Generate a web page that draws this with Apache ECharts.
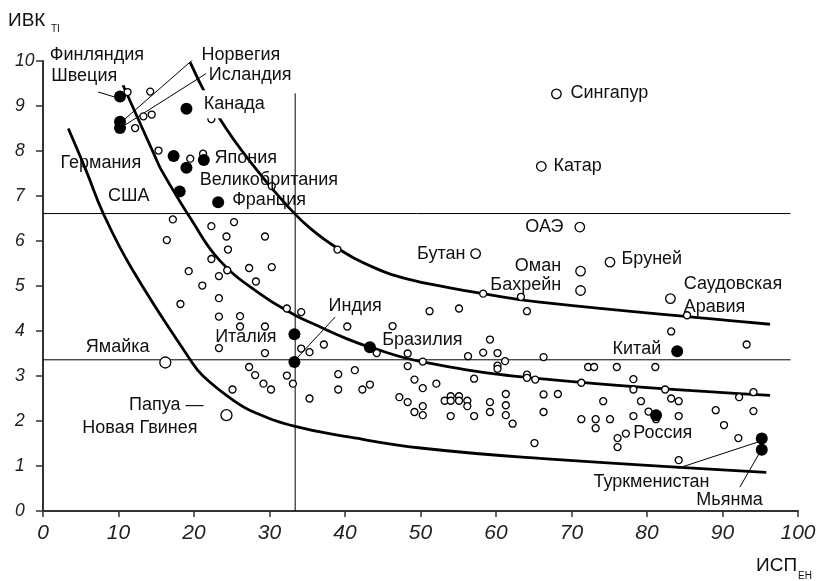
<!DOCTYPE html>
<html><head><meta charset="utf-8">
<script src="https://cdn.jsdelivr.net/npm/echarts@6/dist/echarts.min.js"></script>
<style>html,body{margin:0;padding:0;background:#fff}#c{width:821px;height:581px}</style>
</head><body><div id="c"></div>
<script>
// ---------- DATA ----------
const xTickValues = [0, 10, 20, 30, 40, 50, 60, 70, 80, 90, 100];
const yTickValues = [0, 1, 2, 3, 4, 5, 6, 7, 8, 9, 10];

// unnamed countries: [ИСП_ЕН, ИВК_TI]
const otherCountries = [
  [11.2,9.31],[14.2,9.32],[13.3,8.77],[14.4,8.81],[12.2,8.51],[22.3,8.71],[15.3,8.01],[19.5,7.83],[21.2,7.94],[30.3,7.22],
  [17.2,6.48],[16.4,6.02],[22.3,6.33],[25.3,6.42],[24.3,6.10],[29.4,6.10],[24.5,5.81],[22.3,5.60],[19.3,5.33],[24.4,5.35],
  [27.3,5.40],[30.3,5.42],[23.3,5.22],[28.2,5.10],[21.1,5.01],[18.2,4.60],[23.3,4.73],[23.3,4.32],[26.1,4.33],[26.1,4.10],
  [29.4,4.10],[32.3,4.50],[34.2,4.42],[39.0,5.81],[23.3,3.62],[29.4,3.51],[34.2,3.61],[35.3,3.53],[37.2,3.70],[40.3,4.10],
  [27.3,3.20],[28.1,3.02],[32.3,3.01],[29.2,2.83],[33.1,2.83],[30.2,2.70],[25.1,2.70],[39.1,3.04],[39.1,2.70],[35.3,2.50],
  [42.3,2.70],[43.3,2.81],[47.2,2.53],[48.3,2.42],[49.2,2.20],[41.3,3.13],
  [46.3,4.11],[51.2,4.44],[55.1,4.50],[64.1,4.44],[63.3,4.76],[58.3,4.83],[44.2,3.51],[48.3,3.50],[50.3,3.32],[48.3,3.22],
  [59.2,3.81],[56.3,3.44],[58.3,3.52],[60.2,3.51],[61.2,3.33],[60.2,3.23],[60.2,3.16],[66.3,3.42],[64.1,3.03],[64.1,2.96],
  [65.2,2.92],[57.1,2.94],[49.2,2.92],[52.1,2.83],[50.3,2.73],[50.3,2.33],[50.3,2.13],[53.2,2.45],[54.0,2.55],[54.0,2.45],
  [55.1,2.55],[55.1,2.45],[56.2,2.45],[56.2,2.33],[54.0,2.11],[57.1,2.11],[59.2,2.42],[59.2,2.20],[61.3,2.60],[61.3,2.35],
  [61.3,2.13],[62.2,1.94],[66.3,2.59],[66.3,2.20],[68.2,2.60],[65.1,1.51],
  [83.2,3.99],[93.2,3.70],[85.3,4.35],[72.2,3.20],[73.0,3.20],[76.0,3.20],[81.1,3.20],[78.2,2.93],[71.3,2.85],[78.2,2.70],
  [82.4,2.70],[83.2,2.50],[84.2,2.44],[79.2,2.44],[74.2,2.44],[92.2,2.53],[94.1,2.64],[89.1,2.24],[94.1,2.22],[90.2,1.91],
  [92.1,1.62],[71.3,2.04],[73.2,2.04],[73.2,1.84],[75.1,2.04],[78.2,2.11],[80.2,2.21],[81.2,2.04],[84.2,2.11],[77.2,1.72],
  [76.1,1.62],[76.1,1.42],[84.2,1.13]
];

// named countries drawn as open circles
const openNamed = [
  ['Сингапур',68.0,9.27],['Катар',66.0,7.66],['ОАЭ',71.1,6.31],['Бутан',57.3,5.72],['Оман',71.2,5.33],
  ['Бахрейн',71.2,4.90],['Бруней',75.1,5.53],['Саудовская Аравия',83.1,4.72]
];
const openNamedBig = [['Ямайка',16.2,3.30],['Папуа — Новая Гвинея',24.3,2.13]];

// named countries drawn as filled circles
const filledNamed = [
  ['Финляндия',10.2,9.21],['Норвегия',10.2,8.65],['Исландия',10.2,8.51],['Канада',19.0,8.94],['Германия',17.3,7.89],
  ['Япония',21.3,7.80],['Великобритания',19.0,7.63],['США',18.1,7.10],['Франция',23.2,6.86],['Италия',33.3,3.93],
  ['Индия',33.3,3.31],['Бразилия',43.3,3.64],['Китай',84.0,3.55],['Россия',81.2,2.13],['Туркменистан',95.2,1.61],['Мьянма',95.2,1.36]
];

// the three curves, points read along them
const curveLow = [[3.35,8.5],[5.7,7.57],[7.99,6.61],[11.75,5.39],[19.5,3.36],[21.2,3.0],[25.2,2.46],[27.9,2.2],[33.4,1.88],[40.7,1.64],[50.0,1.40],[65.8,1.17],[95.8,0.86]];
const curveMid = [[10.6,9.46],[14.7,7.93],[15.7,7.57],[19.7,6.46],[23.4,5.57],[28.7,4.83],[33.4,4.35],[35.8,4.16],[40.2,3.83],[43.3,3.64],[50.4,3.31],[65.8,2.94],[96.3,2.57]];
const curveHigh = [[19.5,9.97],[23.4,8.72],[28.5,7.54],[32.7,6.72],[35.4,6.28],[39.0,5.84],[43.7,5.42],[48.2,5.16],[53.9,4.96],[58.3,4.83],[65.8,4.64],[91.0,4.23],[96.3,4.15]];

// reference lines
const hLines = [6.61, 3.36];
const hLineEnd = 99;
const vLine = 33.4;
const vLineTop = 9.28;

// label texts with anchor (left edge / right edge), in data units
const labelsLeft = [
  ['Финляндия',0.83,10.13],['Швеция',1.02,9.66],['Норвегия',20.93,10.13],['Исландия',21.89,9.68],['Канада',20.70,9.04],
  ['Япония',22.65,7.84],['Великобритания',20.70,7.36],['Франция',24.99,6.90],['Сингапур',69.80,9.28],['Катар',67.55,7.66],
  ['Бруней',76.56,5.59],['Саудовская',84.81,5.04],['Аравия',84.81,4.53],['Индия',37.75,4.55],['Бразилия',44.86,3.79],
  ['Россия',78.11,1.74]
];
const labelsRight = [
  ['Германия',14.26,7.74],['США',14.17,6.99],['ОАЭ',69.0,6.31],['Бутан',56.03,5.70],['Оман',68.70,5.44],
  ['Бахрейн',68.70,5.02],['Италия',30.99,3.87],['Ямайка',14.17,3.64],['Папуа —',21.32,2.35],['Новая Гвинея',20.53,1.84],
  ['Китай',81.95,3.59],['Туркменистан',88.34,0.64],['Мьянма',95.40,0.24]
];
const whiteBackLabels = ['Канада','Германия'];

// leader lines from label to point
const leaders = [
  [[7.3,9.31],[9.5,9.20]],
  [[10.5,8.66],[20.8,10.17]],
  [[10.6,8.55],[21.6,9.72]],
  [[38.7,4.31],[33.6,3.39]],
  [[84.1,0.95],[95.0,1.55]],
  [[92.3,0.53],[95.1,1.35]]
];

// ---------- CHART ----------
const FONT = "'Liberation Sans', Arial, sans-serif";
const chart = echarts.init(document.getElementById('c'), null, {renderer: 'canvas'});

const thinLine = (data) => ({
  type: 'line', data, symbol: 'none', silent: true, animation: false, z: 1,
  lineStyle: {color: '#000', width: 1}
});
const curve = (data, z) => ({
  type: 'line', data, symbol: 'none', smooth: 0.45, silent: true, animation: false, z,
  lineStyle: {color: '#000', width: 2.8}
});

const series = [];
hLines.forEach(v => series.push(thinLine([[0, v], [hLineEnd, v]])));
series.push(thinLine([[vLine, 0], [vLine, vLineTop]]));
leaders.forEach(l => series.push(thinLine(l)));
series.push(curve(curveLow, 25));   // drawn over the labels, as in the reference
series.push(curve(curveMid, 2));
series.push(curve(curveHigh, 2));

const openStyle = {color: '#fff', borderColor: '#000', borderWidth: 1.3, opacity: 1};
series.push({
  type: 'scatter', data: otherCountries, symbol: 'circle', symbolSize: 7, z: 5, animation: false,
  itemStyle: openStyle
});
series.push({
  type: 'scatter', data: openNamed.map(d => ({name: d[0], value: [d[1], d[2]]})), symbolSize: 9.5, z: 5, animation: false,
  itemStyle: openStyle
});
series.push({
  type: 'scatter', data: openNamedBig.map(d => ({name: d[0], value: [d[1], d[2]]})), symbolSize: 11, z: 5, animation: false,
  itemStyle: openStyle
});
series.push({
  type: 'scatter', data: filledNamed.map(d => ({name: d[0], value: [d[1], d[2]]})), symbolSize: 12, z: 6, animation: false,
  itemStyle: {color: '#000', borderWidth: 0, opacity: 1}
});

const PAD = [5, 9, 5, 4];
const labelItem = (d, side) => {
  const bg = whiteBackLabels.includes(d[0]);
  const lab = {
    show: true, position: side === 'l' ? 'right' : 'left', distance: 0,
    formatter: d[0], fontFamily: FONT, fontSize: 18, color: '#111'
  };
  if (bg) {
    lab.backgroundColor = '#fff';
    lab.padding = PAD;
    lab.offset = [side === 'l' ? -PAD[3] : PAD[1], 0];
  }
  return {name: d[0], value: [d[1], d[2]], label: lab};
};
series.push({
  type: 'scatter', symbolSize: 1, z: 20, silent: true, animation: false, clip: false,
  data: labelsLeft.map(d => labelItem(d, 'l')).concat(labelsRight.map(d => labelItem(d, 'r'))),
  itemStyle: {color: 'rgba(0,0,0,0)', opacity: 1}, labelLayout: {hideOverlap: false}
});

chart.setOption({
  backgroundColor: '#fff',
  animation: false,
  grid: {left: 43, right: 23, top: 61, bottom: 70, containLabel: false, outerBoundsMode: 'none'},
  xAxis: {
    type: 'value', min: xTickValues[0], max: xTickValues[xTickValues.length - 1], interval: 10,
    axisLine: {show: true, onZero: false, lineStyle: {color: '#333', width: 2}},
    axisTick: {show: true, length: 6, lineStyle: {color: '#333', width: 1.5}},
    splitLine: {show: false},
    axisLabel: {margin: 12,
      formatter: v => xTickValues.includes(v) ? '{i|' + v + '}' : '',
      rich: {i: {fontFamily: FONT, fontStyle: 'italic', fontSize: 21, color: '#222'}}}
  },
  yAxis: {
    type: 'value', min: yTickValues[0], max: yTickValues[yTickValues.length - 1], interval: 1,
    axisLine: {show: true, onZero: false, lineStyle: {color: '#333', width: 2}},
    axisTick: {show: true, length: 7, lineStyle: {color: '#333', width: 1.5}},
    splitLine: {show: false},
    axisLabel: {margin: 28, align: 'left',
      formatter: v => yTickValues.includes(v) ? '{i|' + v + '}' : '',
      rich: {i: {fontFamily: FONT, fontStyle: 'italic', fontSize: 17.5, color: '#222'}}}
  },
  graphic: [
    {type: 'text', left: 8, top: 11, style: {text: 'ИВК', font: "19px 'Liberation Sans', Arial, sans-serif", fill: '#111'}},
    {type: 'text', left: 51, top: 24, style: {text: 'TI', font: "10px 'Liberation Sans', Arial, sans-serif", fill: '#111'}},
    {type: 'text', left: 756, top: 556, style: {text: 'ИСП', font: "19px 'Liberation Sans', Arial, sans-serif", fill: '#111'}},
    {type: 'text', left: 798, top: 571, style: {text: 'ЕН', font: "10px 'Liberation Sans', Arial, sans-serif", fill: '#111'}}
  ],
  series
});
</script>
</body></html>
